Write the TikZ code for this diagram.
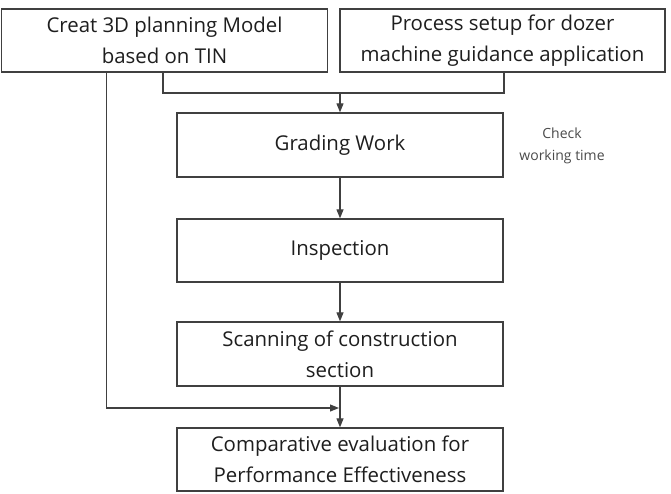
\documentclass[tikz,border=0pt]{standalone}
\usepackage{fontspec}
\setmainfont{Open Sans}
\usetikzlibrary{arrows.meta,positioning,calc}
\usepackage{xcolor}
\definecolor{ink}{HTML}{1E1E1E}
\definecolor{line}{HTML}{404040}
\definecolor{muted}{HTML}{4A4A4A}
\tikzset{
  base/.style={font=\fontsize{20.4}{31}\selectfont, text=ink},
  box/.style={base, draw=line, line width=1.3pt, fill=white, minimum width=326pt, minimum height=63pt, align=center, inner sep=2pt},
  arrow/.style={-{Triangle[length=9pt,width=7pt]}, line width=1.1pt, draw=line},
  link/.style={line width=1.1pt, draw=line},
  note/.style={base, font=\fontsize{14}{22}\selectfont, text=muted, align=center},
}
\begin{document}
\begin{tikzpicture}[x=1pt,y=-1pt]
  \useasboundingbox (0,0) rectangle (671,493);

  \node[box,minimum width=326pt] (model) at (164.5,40.5) {Creat 3D planning Model\\based on TIN};
  \node[box,minimum width=325pt] (setup) at (502.5,40.5) {Process setup for dozer\\machine guidance application};
  \node[box,minimum height=64pt] (grading) at (340,145) {Grading Work};
  \node[box] (inspect) at (340,250.5) {Inspection};
  \node[box,minimum height=64pt] (scan) at (340,354) {Scanning of construction\\section};
  \node[box] (compare) at (340,459.5) {Comparative evaluation for\\Performance Effectiveness};
  \node[note] (check) at (562,146) {Check\\working time};

  \coordinate (join) at (340,93);
  \coordinate (meet) at (339,408);

  \draw[link] ([xshift=-1.5pt]model.south) |- (join) -| ([xshift=1.5pt]setup.south);
  \draw[arrow] (join) -- (grading.north);
  \draw[arrow] (grading) -- (inspect);
  \draw[arrow] (inspect) -- (scan);
  \draw[arrow] (scan) -- (compare);
  \draw[arrow] ([xshift=106pt]model.south west) |- (meet);
\end{tikzpicture}
\end{document}
